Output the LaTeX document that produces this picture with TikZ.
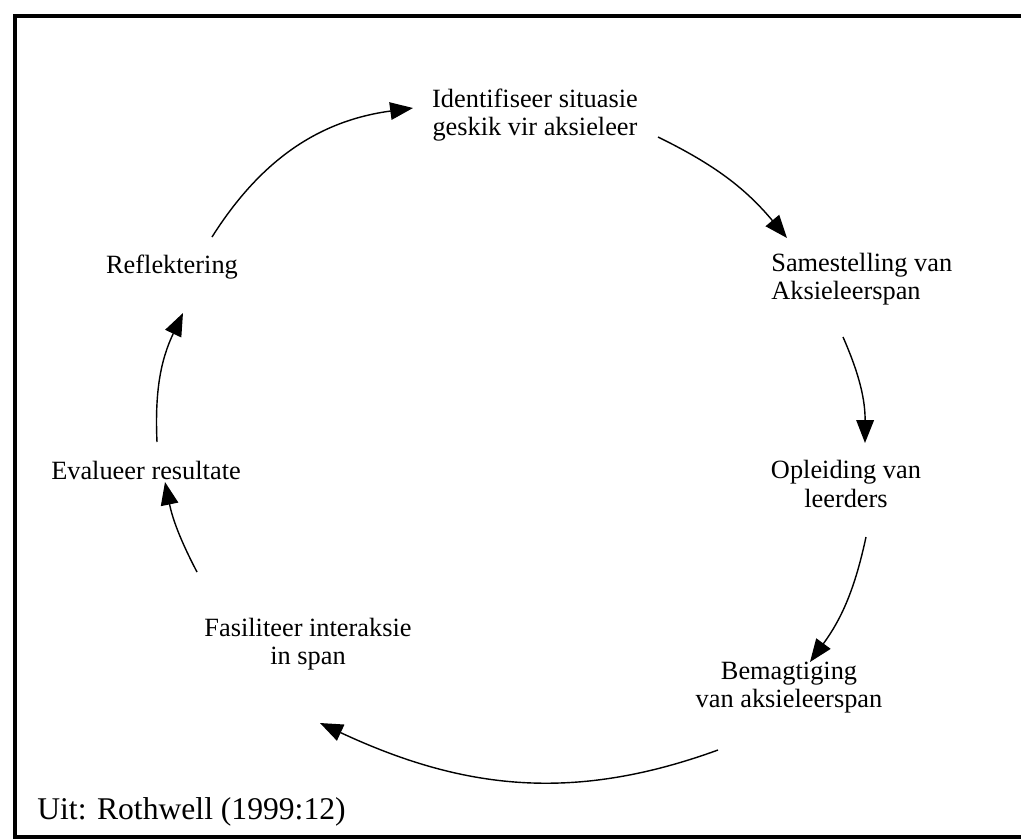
\documentclass[tikz,border=0pt]{standalone}
\usepackage{fontspec}
\setmainfont{Liberation Serif}
\usetikzlibrary{arrows.meta}

\newcommand{\cycleEnds}{
  \coordinate (s1) at (212,237);
  \coordinate (e1) at (413,108);
  \coordinate (s2) at (658,137);
  \coordinate (e2) at (787,238);
  \coordinate (s3) at (843,337);
  \coordinate (e3) at (865,443);
  \coordinate (s4) at (866,537);
  \coordinate (e4) at (810,662);
  \coordinate (s5) at (718,750);
  \coordinate (e5) at (320,723);
  \coordinate (s6) at (197,572);
  \coordinate (e6) at (165,482);
  \coordinate (s7) at (157,442);
  \coordinate (e7) at (183,313);
}

\begin{document}
\begin{tikzpicture}[x=0.02cm,y=-0.02cm,
    stage/.style={align=center,inner sep=0pt,
      font=\fontsize{15}{16}\selectfont},
    cyc/.style={line width=0.8pt,-{Triangle[length=13pt,width=10pt]}}]
    \useasboundingbox (0,0) rectangle (1021,839);

    \draw [line width=1.8pt] (1021,16) -- (15,16) -- (15,837) -- (1021,837);

    \node [stage] (ident) at (535,115)
    {Identifiseer situasie\\geskik vir aksieleer};

    \node [stage,align=left,anchor=west] (same) at (771,279)
    {Samestelling van\\Aksieleerspan};

    \node [stage] (opl) at (846,484) {Opleiding van\\leerders};

    \node [stage] (bemag) at (789,688)
    {Bemagtiging\\van aksieleerspan};

    \node [stage] (fasil) at (308,644)
    {Fasiliteer interaksie\\in span};

    \node [stage] (eval) at (146,470) {Evalueer resultate};

    \node [stage] (refl) at (172,267) {Reflektering};

    \node [anchor=west,inner sep=0pt,font=\fontsize{18}{20}\selectfont]
    (bron) at (37,812) {Uit: Rothwell (1999:12)};

    \cycleEnds

    \draw [cyc] (s1) to [bend left=25] (e1);
    \draw [cyc] (s2) to [bend left=12] (e2);
    \draw [cyc] (s3) to [bend left=12] (e3);
    \draw [cyc] (s4) to [bend left=12] (e4);
    \draw [cyc] (s5) to [out=200,in=-25] (e5);
    \draw [cyc] (s6) to [bend left=8] (e6);
    \draw [cyc] (s7) to [bend left=14] (e7);
  \end{tikzpicture}
\end{document}
